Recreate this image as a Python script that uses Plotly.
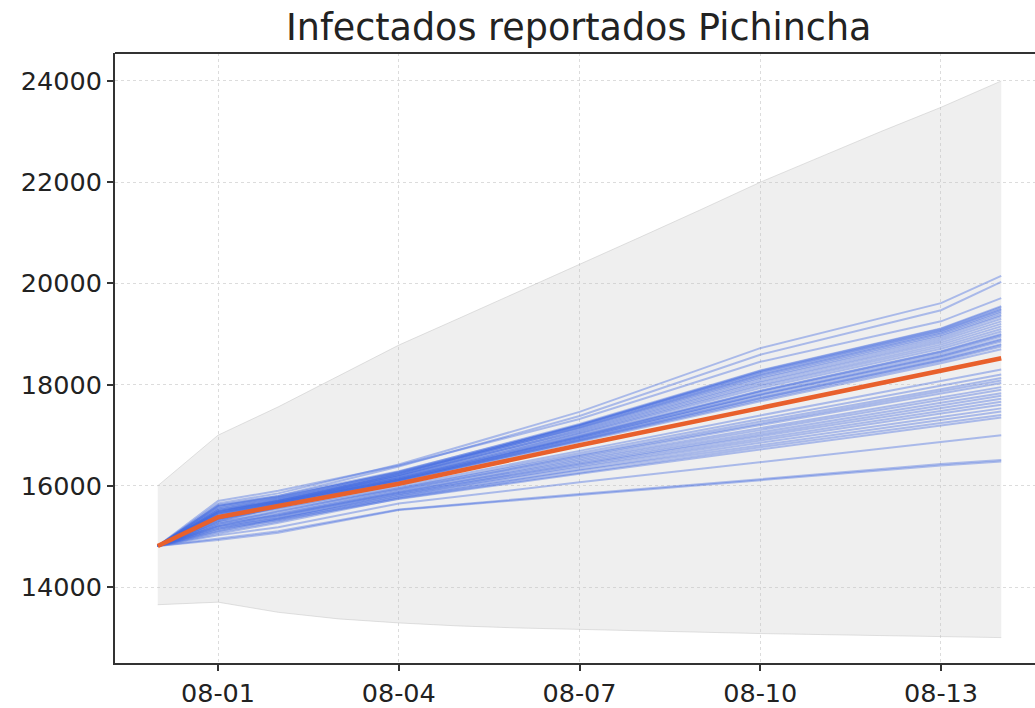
import plotly.graph_objects as go

# ---- data ----
band_dates = ["2020-07-31", "2020-08-01", "2020-08-02", "2020-08-03", "2020-08-04",
              "2020-08-05", "2020-08-06", "2020-08-07", "2020-08-08", "2020-08-09",
              "2020-08-10", "2020-08-11", "2020-08-12", "2020-08-13", "2020-08-14"]
band_upper = [16000, 17000, 17560, 18170, 18780, 19310, 19840, 20370, 20910, 21450,
              22000, 22500, 23000, 23480, 24000]
band_lower = [13650, 13700, 13500, 13370, 13290, 13230, 13190, 13160, 13130, 13100,
              13080, 13060, 13040, 13020, 13000]

path_dates = ["2020-07-31", "2020-08-01", "2020-08-02", "2020-08-04",
              "2020-08-07", "2020-08-10", "2020-08-13", "2020-08-14"]

mean_path = [14810, 15380, 15600, 16040, 16800, 17540, 18270, 18520]

sim_paths = [
    [14810, 15650, 15850, 16420, 17460, 18720, 19610, 20150],
    [14810, 15600, 15800, 16380, 17380, 18590, 19470, 20030],
    [14810, 15700, 15900, 16400, 17320, 18450, 19250, 19710],
    [14810, 15550, 15760, 16280, 17220, 18280, 19110, 19550],
    [14810, 15450, 15680, 16240, 17200, 18270, 19100, 19530],
    [14810, 15620, 15800, 16290, 17200, 18250, 19070, 19500],
    [14810, 15500, 15720, 16250, 17190, 18240, 19060, 19480],
    [14810, 15580, 15770, 16270, 17180, 18210, 19030, 19450],
    [14810, 15420, 15660, 16220, 17160, 18190, 19010, 19420],
    [14810, 15520, 15730, 16240, 17150, 18170, 18980, 19380],
    [14810, 15600, 15780, 16260, 17140, 18140, 18950, 19350],
    [14810, 15480, 15700, 16210, 17120, 18110, 18910, 19300],
    [14810, 15400, 15640, 16190, 17100, 18070, 18870, 19250],
    [14810, 15550, 15740, 16210, 17080, 18040, 18830, 19200],
    [14810, 15480, 15700, 16190, 17060, 18000, 18790, 19150],
    [14810, 15350, 15620, 16150, 17040, 17970, 18750, 19100],
    [14810, 15500, 15700, 16170, 17020, 17930, 18710, 19050],
    [14810, 15440, 15660, 16150, 16990, 17880, 18660, 19000],
    [14810, 15300, 15580, 16120, 16980, 17870, 18650, 18980],
    [14810, 15520, 15700, 16150, 16970, 17850, 18620, 18950],
    [14810, 15400, 15640, 16120, 16950, 17810, 18580, 18900],
    [14810, 15460, 15670, 16130, 16950, 17800, 18560, 18880],
    [14810, 15340, 15600, 16100, 16930, 17780, 18540, 18850],
    [14810, 15450, 15660, 16110, 16910, 17740, 18500, 18800],
    [14810, 15380, 15620, 16090, 16900, 17730, 18480, 18780],
    [14810, 15480, 15680, 16110, 16890, 17700, 18460, 18750],
    [14810, 15360, 15600, 16070, 16870, 17670, 18420, 18700],
    [14810, 15330, 15560, 15990, 16690, 17390, 18070, 18300],
    [14810, 15250, 15490, 15950, 16650, 17320, 17980, 18200],
    [14810, 15350, 15540, 15950, 16610, 17270, 17910, 18130],
    [14810, 15200, 15440, 15910, 16590, 17230, 17870, 18080],
    [14810, 15300, 15500, 15920, 16560, 17200, 17820, 18030],
    [14810, 15150, 15400, 15880, 16530, 17140, 17750, 17950],
    [14810, 15280, 15460, 15880, 16500, 17100, 17700, 17900],
    [14810, 15220, 15420, 15860, 16470, 17060, 17640, 17830],
    [14810, 15120, 15360, 15840, 16440, 17020, 17590, 17780],
    [14810, 15250, 15420, 15840, 16420, 16980, 17540, 17720],
    [14810, 15100, 15340, 15810, 16390, 16940, 17480, 17660],
    [14810, 15200, 15380, 15810, 16360, 16900, 17430, 17600],
    [14810, 15080, 15300, 15780, 16320, 16850, 17360, 17530],
    [14810, 15180, 15350, 15770, 16300, 16800, 17310, 17470],
    [14810, 15050, 15270, 15750, 16260, 16760, 17240, 17400],
    [14810, 15150, 15320, 15740, 16240, 16720, 17200, 17350],
    [14810, 15020, 15180, 15650, 16070, 16470, 16880, 17000],
    [14810, 14960, 15100, 15530, 15840, 16130, 16430, 16510],
    [14810, 14930, 15070, 15520, 15820, 16110, 16400, 16480],
]

y_ticks = [14000, 16000, 18000, 20000, 22000, 24000]
x_tick_vals = ["2020-08-01", "2020-08-04", "2020-08-07", "2020-08-10", "2020-08-13"]
x_tick_text = ["08-01", "08-04", "08-07", "08-10", "08-13"]

title_text = "Infectados reportados Pichincha"

# ---- figure ----
fig = go.Figure()

fig.add_trace(go.Scatter(x=band_dates, y=band_lower, mode="lines",
                         line=dict(color="rgba(190,190,190,0.45)", width=1),
                         hoverinfo="skip", showlegend=False))
fig.add_trace(go.Scatter(x=band_dates, y=band_upper, mode="lines", fill="tonexty",
                         fillcolor="rgba(190,190,190,0.25)",
                         line=dict(color="rgba(190,190,190,0.45)", width=1),
                         hoverinfo="skip", showlegend=False))

for p in sim_paths:
    fig.add_trace(go.Scatter(x=path_dates, y=p, mode="lines",
                             line=dict(color="rgba(65,105,225,0.40)", width=2),
                             showlegend=False))

fig.add_trace(go.Scatter(x=path_dates, y=mean_path, mode="lines",
                         line=dict(color="#e8602c", width=4.5), showlegend=False))

axis_font = dict(family="DejaVu Sans", size=25.5, color="#222222")

fig.update_layout(
    width=1035, height=708,
    margin=dict(l=115, r=0, t=53, b=45),
    paper_bgcolor="white", plot_bgcolor="white",
    showlegend=False,
    font=dict(family="DejaVu Sans", color="#222222"),
    xaxis=dict(
        type="date", automargin=False,
        range=["2020-07-30 06:58", "2020-08-14 13:27"],
        tickvals=x_tick_vals, ticktext=x_tick_text,
        tickfont=axis_font,
        showline=True, linecolor="#333333", linewidth=2,
        ticks="outside", ticklen=6, tickwidth=2, tickcolor="#333333",
        showgrid=True, gridcolor="#dcdcdc", gridwidth=1, griddash="dot",
        zeroline=False,
    ),
    yaxis=dict(
        automargin=False,
        range=[12498, 24553],
        tickvals=y_ticks, tickformat="d",
        tickfont=axis_font,
        showline=True, linecolor="#333333", linewidth=2,
        ticks="outside", ticklen=6, tickwidth=2, tickcolor="#333333",
        showgrid=True, gridcolor="#dcdcdc", gridwidth=1, griddash="dot",
        zeroline=False,
    ),
    shapes=[dict(type="line", xref="paper", yref="paper", x0=0, x1=1, y0=1, y1=1,
                 line=dict(color="#333333", width=2))],
    annotations=[dict(text=title_text, xref="paper", yref="paper",
                      x=0.504, y=1, yshift=26, xanchor="center", yanchor="middle",
                      showarrow=False,
                      font=dict(family="DejaVu Sans", size=36.5, color="#222222"))],
)

fig.write_html("out.html",
               config={"displayModeBar": False},
               post_script="document.body.style.margin='0';document.body.style.overflow='hidden';")
